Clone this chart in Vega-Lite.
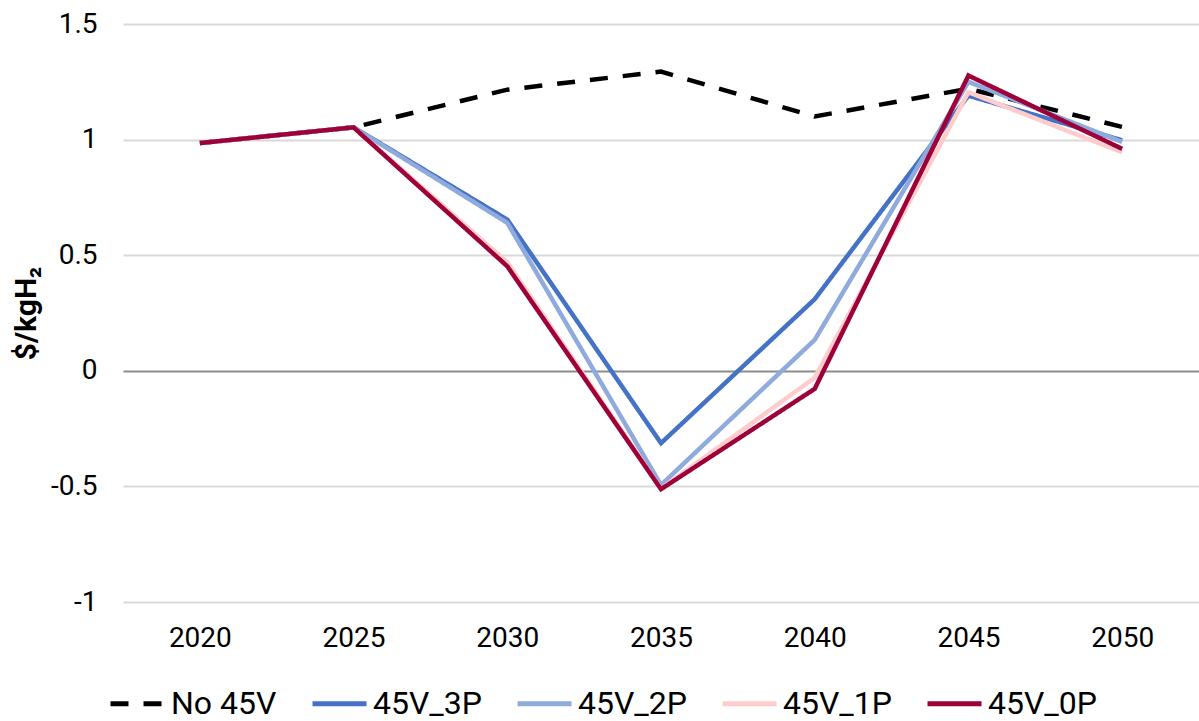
{
  "$schema": "https://vega.github.io/schema/vega-lite/v6.json",
  "width": 1076,
  "height": 578,
  "autosize": {"type": "none"},
  "padding": {"left": 123, "top": 24, "right": 0, "bottom": 119},
  "background": "white",
  "config": {
    "font": "Roboto",
    "view": {"stroke": null}
  },
  "data": {
    "values": [
      {"year": "2020", "series": "No 45V", "value": 0.985},
      {"year": "2025", "series": "No 45V", "value": 1.053},
      {"year": "2030", "series": "No 45V", "value": 1.216},
      {"year": "2035", "series": "No 45V", "value": 1.294},
      {"year": "2040", "series": "No 45V", "value": 1.1},
      {"year": "2045", "series": "No 45V", "value": 1.22},
      {"year": "2050", "series": "No 45V", "value": 1.055},
      {"year": "2020", "series": "45V_3P", "value": 0.985},
      {"year": "2025", "series": "45V_3P", "value": 1.053},
      {"year": "2030", "series": "45V_3P", "value": 0.654},
      {"year": "2035", "series": "45V_3P", "value": -0.313},
      {"year": "2040", "series": "45V_3P", "value": 0.31},
      {"year": "2045", "series": "45V_3P", "value": 1.19},
      {"year": "2050", "series": "45V_3P", "value": 0.997},
      {"year": "2020", "series": "45V_2P", "value": 0.985},
      {"year": "2025", "series": "45V_2P", "value": 1.053},
      {"year": "2030", "series": "45V_2P", "value": 0.64},
      {"year": "2035", "series": "45V_2P", "value": -0.494},
      {"year": "2040", "series": "45V_2P", "value": 0.134},
      {"year": "2045", "series": "45V_2P", "value": 1.25},
      {"year": "2050", "series": "45V_2P", "value": 0.99},
      {"year": "2020", "series": "45V_1P", "value": 0.985},
      {"year": "2025", "series": "45V_1P", "value": 1.053},
      {"year": "2030", "series": "45V_1P", "value": 0.47},
      {"year": "2035", "series": "45V_1P", "value": -0.51},
      {"year": "2040", "series": "45V_1P", "value": -0.03},
      {"year": "2045", "series": "45V_1P", "value": 1.205},
      {"year": "2050", "series": "45V_1P", "value": 0.945},
      {"year": "2020", "series": "45V_0P", "value": 0.985},
      {"year": "2025", "series": "45V_0P", "value": 1.053},
      {"year": "2030", "series": "45V_0P", "value": 0.452},
      {"year": "2035", "series": "45V_0P", "value": -0.512},
      {"year": "2040", "series": "45V_0P", "value": -0.078},
      {"year": "2045", "series": "45V_0P", "value": 1.277},
      {"year": "2050", "series": "45V_0P", "value": 0.96}
    ]
  },
  "mark": {"type": "line", "strokeWidth": 4.5, "strokeJoin": "miter"},
  "encoding": {
    "x": {
      "field": "year",
      "type": "ordinal",
      "scale": {"type": "point", "padding": 0.5},
      "axis": {
        "title": null,
        "labelAngle": 0,
        "labelFontSize": 28,
        "labelColor": "#000000",
        "labelPadding": 22,
        "ticks": false,
        "domain": false,
        "grid": false
      }
    },
    "y": {
      "field": "value",
      "type": "quantitative",
      "scale": {"domain": [-1, 1.5], "nice": false, "zero": false},
      "axis": {
        "values": [-1, -0.5, 0, 0.5, 1, 1.5],
        "labelExpr": "toString(datum.value)",
        "labelFontSize": 28,
        "labelColor": "#000000",
        "labelPadding": 26,
        "ticks": false,
        "domain": false,
        "grid": true,
        "gridColor": {"condition": {"test": "datum.value === 0", "value": "#8c8c8c"}, "value": "#d9d9d9"},
        "gridWidth": 1.8,
        "title": "$/kgH₂",
        "titleFontSize": 30,
        "titleFontWeight": "bold",
        "titleColor": "#000000",
        "titleAngle": -90,
        "titleBaseline": "middle",
        "titleAlign": "center",
        "titleX": -97,
        "titleY": 289
      }
    },
    "color": {
      "field": "series",
      "type": "nominal",
      "sort": ["No 45V", "45V_3P", "45V_2P", "45V_1P", "45V_0P"],
      "scale": {
        "domain": ["No 45V", "45V_3P", "45V_2P", "45V_1P", "45V_0P"],
        "range": ["#000000", "#4472C4", "#8FAADC", "#FFCCCC", "#9E0039"]
      },
      "legend": {
        "title": null,
        "orient": "none",
        "direction": "horizontal",
        "columns": 5,
        "legendX": -15,
        "legendY": 650,
        "symbolType": "stroke",
        "symbolSize": 2916,
        "symbolStrokeWidth": 5,
        "labelFontSize": 32,
        "labelColor": "#000000",
        "labelOffset": 4,
        "columnPadding": 25,
        "labelLimit": 300
      }
    },
    "strokeDash": {
      "field": "series",
      "type": "nominal",
      "sort": ["No 45V", "45V_3P", "45V_2P", "45V_1P", "45V_0P"],
      "scale": {
        "domain": ["No 45V", "45V_3P", "45V_2P", "45V_1P", "45V_0P"],
        "range": [[18, 15], [1, 0], [1, 0], [1, 0], [1, 0]]
      },
      "legend": null
    }
  }
}
